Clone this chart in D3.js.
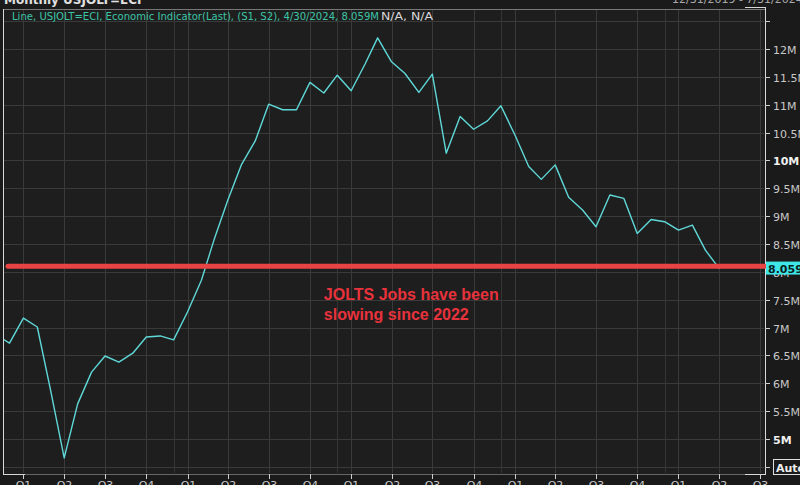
<!DOCTYPE html>
<html>
<head>
<meta charset="utf-8">
<script src="https://cdn.jsdelivr.net/npm/d3@7"></script>
<style>
html,body{margin:0;padding:0;background:#1a1a1a;}
svg{display:block;}
</style>
</head>
<body>
<svg id="chart" width="800" height="485"></svg>
<script>
// ---- data ----
const startMonth = "2019-11";           // first plotted month (Nov 2019, clipped at left edge)
const jobOpenings = [                   // millions, monthly Nov 2019 .. Apr 2024
  6.87, 6.72, 7.17, 7.01, 5.90, 4.66, 5.63, 6.20, 6.49, 6.38, 6.54, 6.83, 6.85, 6.78,
  7.28, 7.85, 8.57, 9.29, 9.92, 10.35, 11.01, 10.91, 10.91, 11.40, 11.21, 11.53, 11.25,
  11.73, 12.20, 11.77, 11.56, 11.22, 11.55, 10.13, 10.79, 10.56, 10.71, 10.98, 10.46,
  9.89, 9.66, 9.92, 9.34, 9.11, 8.81, 9.38, 9.32, 8.69, 8.94, 8.90, 8.75, 8.84, 8.39, 8.059
];
const yTickValues = [4.5,5,5.5,6,6.5,7,7.5,8,8.5,9,9.5,10,10.5,11,11.5,12,12.5];
const yTickLabels = ["", "5M","5.5M","6M","6.5M","7M","7.5M","8M","8.5M","9M","9.5M","10M","10.5M","11M","11.5M","12M",""];
const boldTicks = ["5M","10M"];
const lastValueLabel = "8.059";
const lastValue = 8.059;
const annotationLevel = 8.1;
const annotationLines = ["JOLTS Jobs have been", "slowing since 2022"];
const headerMain = "Line, USJOLT=ECI, Economic Indicator(Last), (S1, S2), 4/30/2024, 8.059M";
const headerTail = "N/A, N/A";
const titleText = "Monthly USJOLT=ECI";
const rangeText = "12/31/2019 - 7/31/2024 N";
const quarterTickStart = "2020-01";
const quarterTickEnd = "2024-07";

// ---- layout ----
const svg = d3.select("#chart");
const P = {left:3, right:765, top:9, bottom:474};
const parse = d3.timeParse("%Y-%m");
const dates = d3.timeMonth.range(parse(startMonth), d3.timeMonth.offset(parse(startMonth), jobOpenings.length));
const data = dates.map((d,i)=>({date:d, value:jobOpenings[i]}));

const x = d3.scaleTime()
  .domain([parse("2019-12"), parse("2024-04")])
  .range([9.5, 719.3]);
const y = d3.scaleLinear().domain([5,12]).range([439,49]);

// backgrounds
svg.append("rect").attr("x",0).attr("y",0).attr("width",800).attr("height",485).attr("fill","#1a1a1a");
svg.append("rect").attr("x",P.left).attr("y",P.top).attr("width",P.right-P.left).attr("height",P.bottom-P.top).attr("fill","#1f1e1e");

svg.append("clipPath").attr("id","plotclip").append("rect")
  .attr("x",P.left+1).attr("y",P.top+1).attr("width",P.right-P.left-2).attr("height",P.bottom-P.top-2);

const grid = svg.append("g").attr("clip-path","url(#plotclip)");
// horizontal grid
grid.selectAll("line.h").data(yTickValues).join("line")
  .attr("x1",P.left).attr("x2",P.right)
  .attr("y1",d=>Math.round(y(d))+0.5).attr("y2",d=>Math.round(y(d))+0.5)
  .attr("stroke","#3a3a3a").attr("stroke-width",1);

// quarter ticks
const qTicks = d3.timeMonth.range(parse(quarterTickStart), d3.timeMonth.offset(parse(quarterTickEnd),1), 3);
grid.selectAll("line.v").data(qTicks).join("line")
  .attr("y1",P.top).attr("y2",P.bottom)
  .attr("x1",d=>Math.round(x(d))+0.5).attr("x2",d=>Math.round(x(d))+0.5)
  .attr("stroke","#3a3a3a").attr("stroke-width",1);
// year separator lines (December points)
const yearLines = qTicks.filter(d=>d.getMonth()===0).map(d=>d3.timeMonth.offset(d,-1)).filter(d=>x(d)>20);
grid.selectAll("line.yr").data(yearLines).join("line")
  .attr("y1",P.top).attr("y2",P.bottom)
  .attr("x1",d=>Math.round(x(d))+0.5).attr("x2",d=>Math.round(x(d))+0.5)
  .attr("stroke","#353535").attr("stroke-width",1);

// the series line
const line = d3.line().x(d=>x(d.date)).y(d=>y(d.value));
svg.append("path").datum(data).attr("clip-path","url(#plotclip)")
  .attr("d",line).attr("fill","none").attr("stroke","#5fd8d8").attr("stroke-width",1.4)
  .attr("stroke-linejoin","round");

// frame
svg.append("line").attr("x1",P.left).attr("x2",P.right).attr("y1",P.top+0.5).attr("y2",P.top+0.5).attr("stroke","#777");
svg.append("line").attr("x1",P.left).attr("x2",P.right).attr("y1",P.bottom+0.5).attr("y2",P.bottom+0.5).attr("stroke","#666");
svg.append("line").attr("x1",P.left+0.5).attr("x2",P.left+0.5).attr("y1",P.top).attr("y2",P.bottom+1).attr("stroke","#d8d8d8");
svg.append("line").attr("x1",P.right+0.5).attr("x2",P.right+0.5).attr("y1",P.top-2).attr("y2",P.bottom+1).attr("stroke","#d8d8d8");
svg.append("line").attr("x1",P.left).attr("x2",P.left+22).attr("y1",P.bottom+0.5).attr("y2",P.bottom+0.5).attr("stroke","#d8d8d8");
svg.append("line").attr("x1",P.right-20).attr("x2",P.right+1).attr("y1",P.bottom+0.5).attr("y2",P.bottom+0.5).attr("stroke","#d8d8d8");
svg.append("line").attr("x1",P.right-20).attr("x2",P.right+1).attr("y1",P.top-1.5).attr("y2",P.top-1.5).attr("stroke","#d8d8d8");

// right axis
const yAxisG = svg.append("g");
yTickValues.forEach((v,i)=>{
  const yy = Math.round(y(v))+0.5;
  if (yy < P.top+5) return;
  yAxisG.append("line").attr("x1",P.right).attr("x2",P.right+5).attr("y1",yy).attr("y2",yy).attr("stroke","#cfcfcf");
  const lab = yTickLabels[i];
  if (lab) {
    const b = boldTicks.includes(lab);
    yAxisG.append("text").attr("x",P.right+8).attr("y",yy+4)
      .attr("font-family","DejaVu Sans, Verdana, sans-serif").attr("font-size",11)
      .attr("font-weight",b?"bold":"normal")
      .attr("fill",b?"#f0f0f0":"#c8c8c8").text(lab);
  }
});
// Auto box on 4.5 tick
const autoY = Math.round(y(yTickValues[0]));
svg.append("rect").attr("x",P.right+8.5).attr("y",autoY-7.5).attr("width",40).attr("height",15)
  .attr("fill","#1a1a1a").attr("stroke","#e0e0e0");
svg.append("text").attr("x",P.right+11).attr("y",autoY+4.5)
  .attr("font-family","DejaVu Sans, Verdana, sans-serif").attr("font-size",11).attr("font-weight","bold")
  .attr("fill","#eeeeee").text("Auto");

// x axis ticks + labels
const xAxisG = svg.append("g");
qTicks.forEach(d=>{
  const xx = Math.round(x(d))+0.5;
  xAxisG.append("line").attr("x1",xx).attr("x2",xx).attr("y1",P.bottom).attr("y2",P.bottom+5).attr("stroke","#cfcfcf");
  xAxisG.append("text").attr("x",xx).attr("y",P.bottom+15).attr("text-anchor","middle")
    .attr("font-family","DejaVu Sans, Verdana, sans-serif").attr("font-size",11)
    .attr("fill","#c8c8c8").text("Q"+(Math.floor(d.getMonth()/3)+1));
});

// red annotation line
svg.append("line").attr("x1",P.left+5).attr("x2",P.right)
  .attr("y1",y(annotationLevel)).attr("y2",y(annotationLevel))
  .attr("stroke","#e84444").attr("stroke-width",5).attr("stroke-linecap","round");

// last value label
const ly = y(lastValue);
svg.append("rect").attr("x",P.right+1).attr("y",ly-7).attr("width",36).attr("height",13).attr("fill","#3fe6e6");
svg.append("text").attr("x",P.right+3).attr("y",ly+4)
  .attr("font-family","DejaVu Sans, Verdana, sans-serif").attr("font-size",11).attr("font-weight","bold")
  .attr("fill","#0b1e22").text(lastValueLabel);

// annotation text
annotationLines.forEach((t,i)=>{
  svg.append("text").attr("x",x(parse("2021-11"))).attr("y",y(7.5)+ i*20)
    .attr("font-family","Liberation Sans, Arial, sans-serif").attr("font-size",16).attr("font-weight","bold")
    .attr("fill","#e8323c").text(t);
});

// header
svg.append("text").attr("x",12).attr("y",20).attr("font-family","DejaVu Sans, Verdana, sans-serif")
  .attr("font-size",11).attr("fill","#3cc4a6").attr("textLength",367).attr("lengthAdjust","spacingAndGlyphs").text(headerMain);
svg.append("text").attr("x",381).attr("y",20).attr("font-family","DejaVu Sans, Verdana, sans-serif")
  .attr("font-size",11).attr("fill","#d8d8d8").attr("textLength",52).attr("lengthAdjust","spacingAndGlyphs").text(headerTail);

// top (cut-off) title and range
svg.append("text").attr("x",4).attr("y",4).attr("font-family","DejaVu Sans, Verdana, sans-serif")
  .attr("font-size",12).attr("font-weight","bold").attr("fill","#e0e0e0").text(titleText);
svg.append("text").attr("x",672).attr("y",3).attr("font-family","DejaVu Sans, Verdana, sans-serif")
  .attr("font-size",11).attr("fill","#aaaaaa").text(rangeText);
</script>
</body>
</html>
